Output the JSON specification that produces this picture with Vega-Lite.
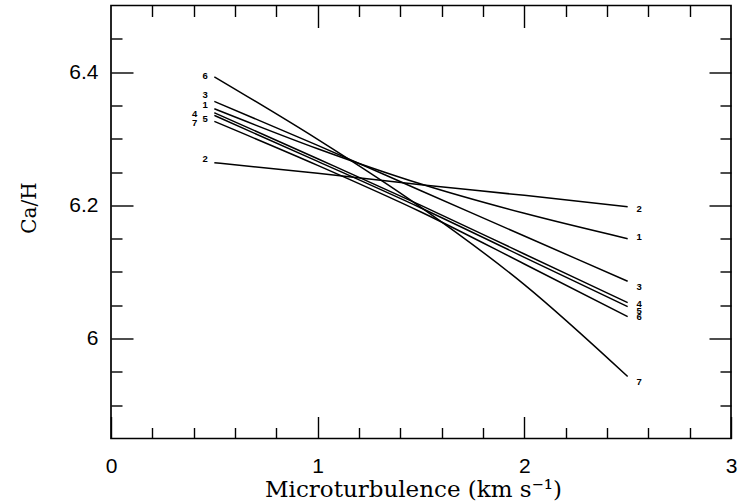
{
  "$schema": "https://vega.github.io/schema/vega-lite/v6.json",
  "width": 620,
  "height": 433,
  "autosize": "none",
  "padding": {"left": 111, "top": 5.5, "right": 17, "bottom": 62.5},
  "background": "white",
  "config": {
    "view": {"stroke": "black", "strokeWidth": 1.7},
    "axis": {"domain": false, "grid": false, "tickColor": "black", "tickWidth": 1.4, "labelColor": "black", "titleColor": "black"}
  },
  "datasets": {
    "curves": [
      {"curve": "A", "mt": 0.5, "ab": 6.393}, {"curve": "A", "mt": 1.0, "ab": 6.299}, {"curve": "A", "mt": 1.5, "ab": 6.197}, {"curve": "A", "mt": 2.0, "ab": 6.081}, {"curve": "A", "mt": 2.5, "ab": 5.943},
      {"curve": "B", "mt": 0.5, "ab": 6.356}, {"curve": "B", "mt": 1.0, "ab": 6.290}, {"curve": "B", "mt": 1.5, "ab": 6.222}, {"curve": "B", "mt": 2.0, "ab": 6.154}, {"curve": "B", "mt": 2.5, "ab": 6.086},
      {"curve": "C", "mt": 0.5, "ab": 6.345}, {"curve": "C", "mt": 1.0, "ab": 6.285}, {"curve": "C", "mt": 1.5, "ab": 6.232}, {"curve": "C", "mt": 2.0, "ab": 6.188}, {"curve": "C", "mt": 2.5, "ab": 6.150},
      {"curve": "D", "mt": 0.5, "ab": 6.339}, {"curve": "D", "mt": 1.0, "ab": 6.270}, {"curve": "D", "mt": 1.5, "ab": 6.200}, {"curve": "D", "mt": 2.0, "ab": 6.127}, {"curve": "D", "mt": 2.5, "ab": 6.054},
      {"curve": "E", "mt": 0.5, "ab": 6.335}, {"curve": "E", "mt": 1.0, "ab": 6.266}, {"curve": "E", "mt": 1.5, "ab": 6.196}, {"curve": "E", "mt": 2.0, "ab": 6.122}, {"curve": "E", "mt": 2.5, "ab": 6.048},
      {"curve": "F", "mt": 0.5, "ab": 6.326}, {"curve": "F", "mt": 1.0, "ab": 6.260}, {"curve": "F", "mt": 1.5, "ab": 6.190}, {"curve": "F", "mt": 2.0, "ab": 6.112}, {"curve": "F", "mt": 2.5, "ab": 6.033},
      {"curve": "G", "mt": 0.5, "ab": 6.264}, {"curve": "G", "mt": 1.0, "ab": 6.248}, {"curve": "G", "mt": 1.5, "ab": 6.231}, {"curve": "G", "mt": 2.0, "ab": 6.215}, {"curve": "G", "mt": 2.5, "ab": 6.198}
    ],
    "labels": [
      {"mt": 0.455, "ab": 6.394, "t": "6"},
      {"mt": 0.455, "ab": 6.366, "t": "3"},
      {"mt": 0.455, "ab": 6.351, "t": "1"},
      {"mt": 0.405, "ab": 6.337, "t": "4"},
      {"mt": 0.405, "ab": 6.324, "t": "7"},
      {"mt": 0.455, "ab": 6.329, "t": "5"},
      {"mt": 0.455, "ab": 6.270, "t": "2"},
      {"mt": 2.555, "ab": 6.195, "t": "2"},
      {"mt": 2.555, "ab": 6.152, "t": "1"},
      {"mt": 2.555, "ab": 6.078, "t": "3"},
      {"mt": 2.555, "ab": 6.052, "t": "4"},
      {"mt": 2.555, "ab": 6.042, "t": "5"},
      {"mt": 2.555, "ab": 6.032, "t": "6"},
      {"mt": 2.555, "ab": 5.935, "t": "7"}
    ]
  },
  "layer": [
    {
      "data": {"name": "curves"},
      "mark": {"type": "line", "color": "black", "strokeWidth": 1.5, "interpolate": "monotone"},
      "encoding": {
        "x": {
          "field": "mt", "type": "quantitative",
          "scale": {"domain": [0, 3], "nice": false, "zero": false},
          "axis": {
            "orient": "bottom",
            "values": [0, 0.2, 0.4, 0.6, 0.8, 1, 1.2, 1.4, 1.6, 1.8, 2, 2.2, 2.4, 2.6, 2.8, 3],
            "tickSize": {"condition": {"test": "abs(datum.value - round(datum.value)) < 0.001", "value": -22}, "value": -11},
            "labelExpr": "abs(datum.value - round(datum.value)) < 0.001 ? toString(round(datum.value)) : ''",
            "labelFont": "Liberation Sans", "labelFontSize": 21, "labelPadding": 39,
            "labelFlush": false,
            "title": "Microturbulence (km s⁻¹)",
            "titleFont": "DejaVu Serif", "titleFontSize": 23, "titleFontWeight": "normal", "titlePadding": 2,
            "titleX": 302
          }
        },
        "y": {
          "field": "ab", "type": "quantitative",
          "scale": {"domain": [5.85, 6.5], "nice": false, "zero": false},
          "axis": {
            "orient": "left",
            "values": [5.9, 5.95, 6, 6.05, 6.1, 6.15, 6.2, 6.25, 6.3, 6.35, 6.4, 6.45],
            "tickSize": {"condition": {"test": "abs(datum.value * 5 - round(datum.value * 5)) < 0.001", "value": -22}, "value": -11},
            "labelExpr": "abs(datum.value * 5 - round(datum.value * 5)) < 0.001 ? toString(round(datum.value * 10) / 10) : ''",
            "labelFont": "Liberation Sans", "labelFontSize": 21, "labelPadding": 35,
            "title": "Ca/H",
            "titleFont": "DejaVu Serif", "titleFontSize": 20, "titleFontWeight": "normal", "titlePadding": 29,
            "titleY": 202
          }
        },
        "detail": {"field": "curve"}
      }
    },
    {
      "data": {"name": "labels"},
      "mark": {"type": "text", "font": "Liberation Sans", "fontWeight": "bold", "fontSize": 9.5, "color": "black", "align": "center", "baseline": "middle"},
      "encoding": {
        "x": {
          "field": "mt", "type": "quantitative",
          "axis": {
            "orient": "top",
            "values": [0.2, 0.4, 0.6, 0.8, 1, 1.2, 1.4, 1.6, 1.8, 2, 2.2, 2.4, 2.6, 2.8],
            "tickSize": {"condition": {"test": "abs(datum.value - round(datum.value)) < 0.001", "value": -22}, "value": -11},
            "labels": false, "title": null
          }
        },
        "y": {
          "field": "ab", "type": "quantitative",
          "axis": {
            "orient": "right",
            "values": [5.9, 5.95, 6, 6.05, 6.1, 6.15, 6.2, 6.25, 6.3, 6.35, 6.4, 6.45],
            "tickSize": {"condition": {"test": "abs(datum.value * 5 - round(datum.value * 5)) < 0.001", "value": -22}, "value": -11},
            "labels": false, "title": null
          }
        },
        "text": {"field": "t"}
      }
    }
  ],
  "resolve": {"axis": {"x": "independent", "y": "independent"}}
}
